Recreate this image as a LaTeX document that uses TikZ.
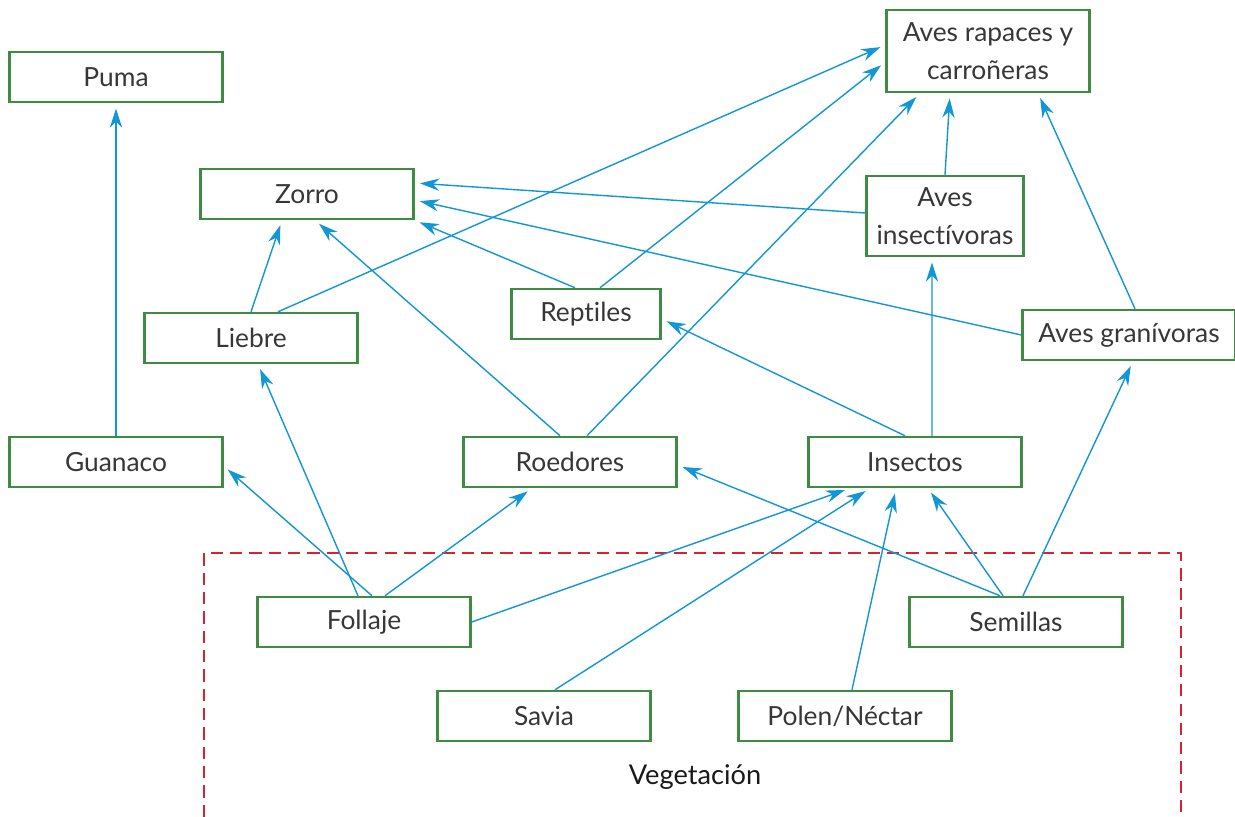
\documentclass[tikz,border=0pt]{standalone}
\usepackage{fontspec}
\setmainfont{Lato}[Ligatures={NoCommon}]
\usepackage{xcolor}
\usepackage{tikz}
\usetikzlibrary{arrows.meta}

\definecolor{boxgreen}{RGB}{62,140,66}
\definecolor{arrowblue}{RGB}{18,150,212}
\definecolor{vegred}{RGB}{212,36,46}
\definecolor{txtgray}{RGB}{55,55,55}

\begin{document}
\begin{tikzpicture}[
    x=0.02cm, y=-0.02cm,
    box/.style={rectangle, draw=boxgreen, line width=1.4pt, fill=white, text=txtgray,
        minimum width=4.26cm, minimum height=1cm, align=center,
        font=\fontsize{15}{21.5}\selectfont},
    arrow/.style={-{Stealth[length=11pt,width=7pt]}, arrowblue, line width=0.8pt, shorten >=3pt},
    vegbox/.style={vegred, line width=1.6pt, dash pattern=on 7pt off 4pt}
]
    \useasboundingbox (0,0) rectangle (1235,817);

    % vegetation frame
    \draw[vegbox] (204,817) -- (204,553) -- (1181,553) -- (1181,817);
    \node[text=black!90, font=\fontsize{15.5}{18}\selectfont] (veg) at (695,777) {Vegetación};

    \node[box] (puma) at (116,77) {Puma};
    \node[box, minimum width=4.06cm, minimum height=1.64cm] (rapaces) at (988,51) {Aves rapaces y\\carroñeras};
    \node[box] (zorro) at (307,194) {Zorro};
    \node[box, minimum width=3.14cm, minimum height=1.6cm] (insectivoras) at (945,216) {Aves\\insectívoras};
    \node[box] (liebre) at (251,338) {Liebre};
    \node[box, minimum width=2.98cm] (reptiles) at (586,314) {Reptiles};
    \node[box] (granivoras) at (1129,335) {Aves granívoras};
    \node[box] (guanaco) at (116,462) {Guanaco};
    \node[box] (roedores) at (570,462) {Roedores};
    \node[box] (insectos) at (915,462) {Insectos};
    \node[box] (follaje) at (364,622) {Follaje};
    \node[box] (semillas) at (1016,622) {Semillas};
    \node[box] (savia) at (544,716) {Savia};
    \node[box] (polen) at (845,716) {Polen/Néctar};

    % predators
    \draw[arrow] (guanaco.north) -- (puma.south);
    \draw[arrow] (liebre.north) -- ([xshift=-0.5cm]zorro.south);
    \draw[arrow] ([xshift=0.54cm]liebre.north) -- ([yshift=0.12cm]rapaces.west);
    \draw[arrow] ([xshift=-0.2cm]roedores.north) -- ([xshift=0.16cm]zorro.south);
    \draw[arrow] ([xshift=0.34cm]roedores.north) -- ([xshift=-1.36cm]rapaces.south);
    \draw[arrow] ([xshift=-0.22cm]reptiles.north) -- (zorro.south east);
    \draw[arrow] ([xshift=0.28cm]reptiles.north) -- ([yshift=-0.22cm]rapaces.west);
    \draw[arrow] ([yshift=0.06cm]insectivoras.west) -- ([yshift=0.22cm]zorro.east);
    \draw[arrow] (insectivoras.north) -- ([xshift=-0.76cm]rapaces.south);
    \draw[arrow] (granivoras.west) -- ([yshift=-0.12cm]zorro.east);
    \draw[arrow] ([xshift=0.12cm]granivoras.north) -- ([xshift=1cm]rapaces.south);
    \draw[arrow] ([xshift=0.34cm]insectos.north) -- ([xshift=-0.26cm]insectivoras.south);
    \draw[arrow] ([xshift=-0.2cm]insectos.north) -- ([yshift=-0.1cm]reptiles.east);

    % vegetation
    \draw[arrow] ([xshift=0.16cm]follaje.north) -- ([yshift=-0.08cm]guanaco.east);
    \draw[arrow] ([xshift=-0.12cm]follaje.north) -- ([xshift=0.14cm]liebre.south);
    \draw[arrow] ([xshift=0.42cm]follaje.north) -- ([xshift=-0.76cm]roedores.south);
    \draw[arrow] (follaje.east) -- ([xshift=-1.3cm]insectos.south);
    \draw[arrow] ([xshift=0.22cm]savia.north) -- ([xshift=-0.9cm]insectos.south);
    \draw[arrow] ([xshift=0.14cm]polen.north) -- ([xshift=-0.38cm]insectos.south);
    \draw[arrow] ([xshift=-0.26cm]semillas.north) -- ([xshift=0.26cm]insectos.south);
    \draw[arrow] ([xshift=-0.32cm]semillas.north) -- ([yshift=-0.06cm]roedores.east);
    \draw[arrow] ([xshift=0.14cm]semillas.north) -- ([xshift=0.08cm]granivoras.south);
\end{tikzpicture}
\end{document}
